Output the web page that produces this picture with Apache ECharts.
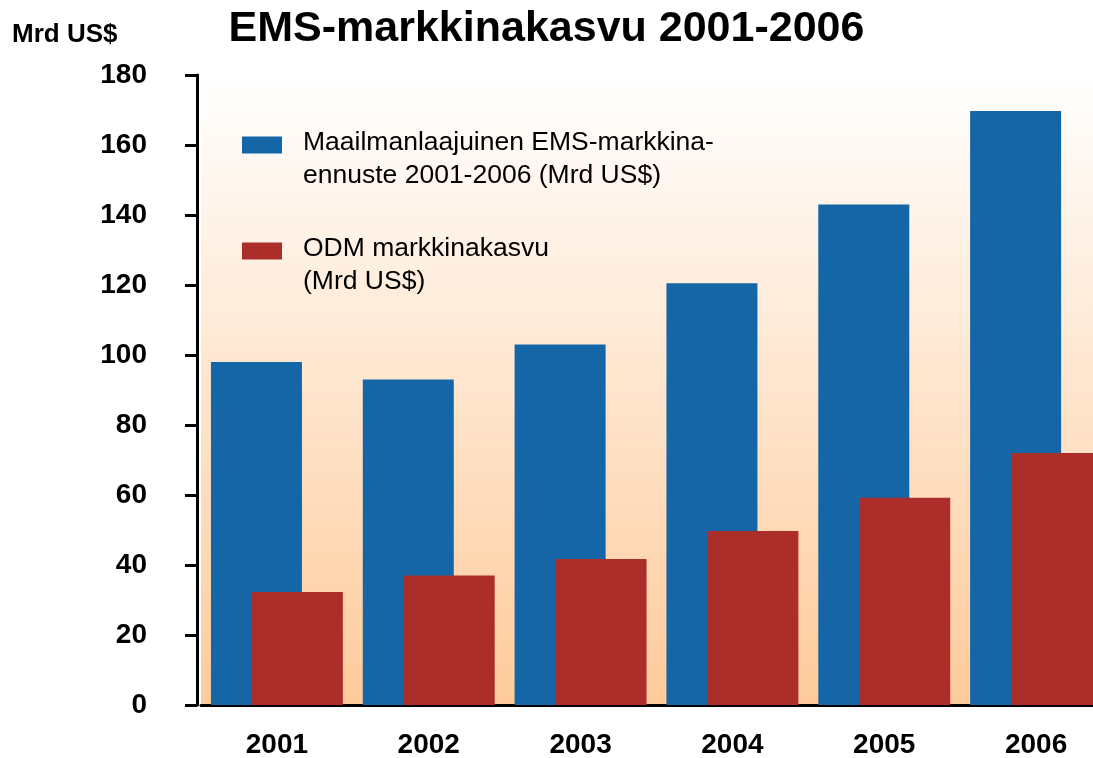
<!DOCTYPE html>
<html>
<head>
<meta charset="utf-8">
<title>EMS-markkinakasvu 2001-2006</title>
<script src="https://cdn.jsdelivr.net/npm/echarts@6/dist/echarts.min.js"></script>
<style>
    html, body { margin: 0; padding: 0; background: #fff; }
    #chart { width: 1093px; height: 758px; }
</style>
</head>
<body>
<div id="chart"></div>
<script>
// vuodet ja arvot (Mrd US$), luettu kuvasta
var years = ["2001", "2002", "2003", "2004", "2005", "2006"];
var emsValues = [98, 93, 103, 120.5, 143, 169.7];
var odmValues = [32.3, 37, 41.7, 49.7, 59.2, 72];
var emsName = "Maailmanlaajuinen EMS-markkina-\nennuste 2001-2006 (Mrd US$)";
var odmName = "ODM markkinakasvu\n(Mrd US$)";

var fontFamily = "Arial, 'Liberation Sans', sans-serif";
var blue = "#1466a6";
var red = "#ab2e2a";

var myChart = echarts.init(document.getElementById("chart"));

// selitteen teksti: tyhjä rivi ylös, jotta ensimmäinen rivi on laatikon kohdalla
function legendText(name){
    var lines = name.split("\n");
    var out = "{s| }";
    for(var i = 0; i < lines.length; i++){
        out += "\n{a|" + lines[i] + "}";
    }
    return out;
}

var option = {
    backgroundColor: "#ffffff",
    animation: false,
    title: [{
        text: "EMS-markkinakasvu 2001-2006",
        left: "center",
        top: 8,
        padding: 0,
        textStyle: {
            color: "#000",
            fontFamily: fontFamily,
            fontWeight: "bold",
            fontSize: 43
        }
    }, {
        text: "Mrd US$",
        left: 12,
        top: 22,
        padding: 0,
        textStyle: {
            color: "#000",
            fontFamily: fontFamily,
            fontWeight: "bold",
            fontSize: 26
        }
    }],
    legend: {
        orient: "vertical",
        left: 242,
        top: 107,
        padding: 0,
        itemGap: 24,
        itemWidth: 40,
        itemHeight: 17,
        icon: "rect",
        selectedMode: false,
        data: [emsName, odmName],
        formatter: legendText,
        textStyle: {
            color: "#000",
            fontFamily: fontFamily,
            fontSize: 26.5,
            rich: {
                s: { fontSize: 10, lineHeight: 28 },
                a: {
                    color: "#000",
                    fontFamily: fontFamily,
                    fontSize: 26.5,
                    lineHeight: 33,
                    padding: [0, 0, 0, 16]
                }
            }
        }
    },
    grid: {
        left: 201,
        top: 75,
        width: 911,
        height: 630,
        outerBoundsMode: "none",
        containLabel: false,
        show: true,
        borderWidth: 0,
        backgroundColor: new echarts.graphic.LinearGradient(0, 0, 0, 1, [
            { offset: 0, color: "#ffffff" },
            { offset: 1, color: "#fecb9b" }
        ])
    },
    xAxis: {
        type: "category",
        data: years,
        axisLine: { lineStyle: { color: "#000", width: 3 } },
        axisTick: { show: false },
        axisLabel: {
            margin: 26,
            color: "#000",
            fontFamily: fontFamily,
            fontWeight: "bold",
            fontSize: 28
        },
        splitLine: { show: false }
    },
    yAxis: {
        type: "value",
        min: 0,
        max: 180,
        interval: 20,
        offset: 4,
        axisLine: { show: true, lineStyle: { color: "#000", width: 3 } },
        axisTick: { show: true, inside: false, length: 12, lineStyle: { color: "#000", width: 3 } },
        axisLabel: {
            margin: 50,
            padding: [5, 0, 0, 0],
            color: "#000",
            fontFamily: fontFamily,
            fontWeight: "bold",
            fontSize: 28
        },
        splitLine: { show: false }
    },
    series: [{
        name: emsName,
        type: "bar",
        data: emsValues,
        barWidth: 91,
        barGap: "-55%",
        itemStyle: { color: blue }
    }, {
        name: odmName,
        type: "bar",
        data: odmValues,
        barWidth: 91,
        barGap: "-55%",
        itemStyle: { color: red }
    }]
};

myChart.setOption(option);
window.onresize = myChart.resize;
</script>
</body>
</html>
